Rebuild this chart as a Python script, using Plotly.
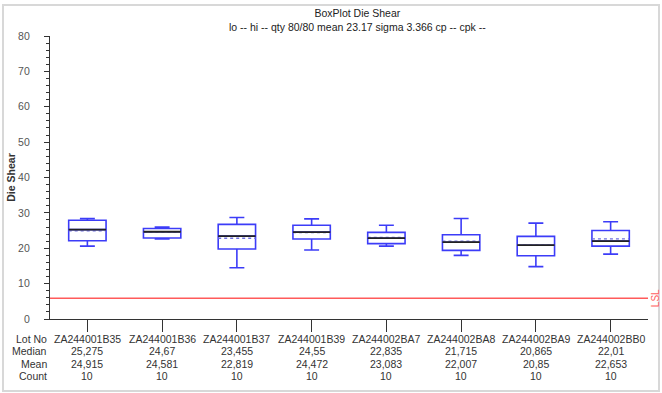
import plotly.graph_objects as go

lots = ["ZA244001B35", "ZA244001B36", "ZA244001B37", "ZA244001B39",
        "ZA244002BA7", "ZA244002BA8", "ZA244002BA9", "ZA244002BB0"]
medians = [25.275, 24.67, 23.455, 24.55, 22.835, 21.715, 20.865, 22.01]
means = [24.915, 24.581, 22.819, 24.472, 23.083, 22.007, 20.85, 22.653]
counts = [10, 10, 10, 10, 10, 10, 10, 10]
q1 = [22.1, 22.9, 19.8, 22.6, 21.3, 19.4, 17.9, 20.6]
q3 = [27.9, 25.6, 26.75, 26.5, 24.5, 23.8, 23.35, 25.0]
lows = [20.6, 22.6, 14.5, 19.5, 20.6, 18.0, 14.8, 18.35]
highs = [28.4, 26.0, 28.7, 28.3, 26.5, 28.4, 27.1, 27.5]
median_text = ["25,275", "24,67", "23,455", "24,55", "22,835", "21,715", "20,865", "22,01"]
mean_text = ["24,915", "24,581", "22,819", "24,472", "23,083", "22,007", "20,85", "22,653"]
row_labels = ["Lot No", "Median", "Mean", "Count"]
lsl = 5.9
title_lines = ["BoxPlot Die Shear", "lo -- hi -- qty 80/80 mean 23.17 sigma 3.366 cp -- cpk --"]

FONT = "Arial, Liberation Sans, sans-serif"
BLUE = "#3c3cf8"
PW, PH = 598, 283  # plot area size in px

xs = list(range(len(lots)))
fig = go.Figure()
fig.add_trace(go.Box(
    x=xs, q1=q1, median=medians, q3=q3, lowerfence=lows, upperfence=highs,
    width=0.5, whiskerwidth=0.4, fillcolor="white",
    line=dict(color=BLUE, width=1.6), hoverinfo="skip", showlegend=False,
))

half = 0.25
for i in xs:
    fig.add_shape(type="line", xref="x", yref="y", x0=i - half, x1=i + half,
                  y0=means[i], y1=means[i], line=dict(color="#7070e0", width=1.4, dash="dot"))
    fig.add_shape(type="line", xref="x", yref="y", x0=i - half, x1=i + half,
                  y0=medians[i], y1=medians[i], line=dict(color="#222222", width=1.8))

fig.add_shape(type="line", xref="paper", yref="y", x0=0, x1=1, y0=lsl, y1=lsl,
              line=dict(color="#ff5a5a", width=1.5))
fig.add_annotation(xref="paper", yref="y", x=1.0, y=lsl, xanchor="center", yanchor="middle",
                   xshift=7, text="LSL", textangle=-90, showarrow=False,
                   font=dict(family=FONT, size=10, color="#ff6060"))

# table below the axis: rows centred at these pixel offsets below the x-axis line
row_offsets = [20, 32.3, 44.6, 57]
columns = [lots, median_text, mean_text, [str(c) for c in counts]]
for r, (label, vals) in enumerate(zip(row_labels, columns)):
    fig.add_annotation(xref="paper", yref="paper", x=0, y=0, xanchor="right", yanchor="middle",
                       xshift=-1, yshift=-row_offsets[r], text=label, showarrow=False,
                       font=dict(family=FONT, size=10.5, color="#333333"))
    for i in xs:
        fig.add_annotation(xref="x", yref="paper", x=i, y=0, xanchor="center", yanchor="middle",
                           yshift=-row_offsets[r], text=vals[i], showarrow=False,
                           font=dict(family=FONT, size=10.5, color="#333333"))

# title
fig.add_annotation(xref="paper", yref="paper", x=(357 - 50) / PW, y=1 + 31 / PH,
                   xanchor="center", yanchor="top", showarrow=False, align="center",
                   text="<br>".join(title_lines),
                   font=dict(family=FONT, size=10.5, color="#222222"))

# outer frame
fig.add_shape(type="rect", xref="paper", yref="paper",
              x0=-47 / PW, x1=1 + 11 / PW, y0=-72 / PH, y1=1 + 31 / PH,
              line=dict(color="#d8d8d8", width=2), layer="below")

fig.update_layout(
    width=662, height=393,
    margin=dict(l=50, r=14, t=36, b=74),
    paper_bgcolor="white", plot_bgcolor="white",
    font=dict(family=FONT, size=10.5, color="#333333"),
    xaxis=dict(range=[-0.5, 7.5], tickmode="array", tickvals=xs, showticklabels=False,
               showline=True, linecolor="#333333", linewidth=1.2,
               ticks="outside", ticklen=12, tickcolor="#333333", tickwidth=1.2,
               showgrid=False, zeroline=False, fixedrange=True, automargin=False),
    yaxis=dict(range=[0, 80], dtick=10, showline=True, linecolor="#333333", linewidth=1.2,
               ticks="outside", ticklen=5, tickcolor="#333333", tickwidth=1.2,
               minor=dict(dtick=2, ticks="outside", ticklen=3, tickcolor="#333333", tickwidth=1),
               showgrid=False, zeroline=False, fixedrange=True, automargin=False,
               ticklabelstandoff=12,
               tickfont=dict(family=FONT, size=10.5, color="#555555"),
               title=dict(text="<b>Die Shear</b>", standoff=0,
                          font=dict(family=FONT, size=10.5, color="#333333"))),
)

fig.write_html("out.html")
